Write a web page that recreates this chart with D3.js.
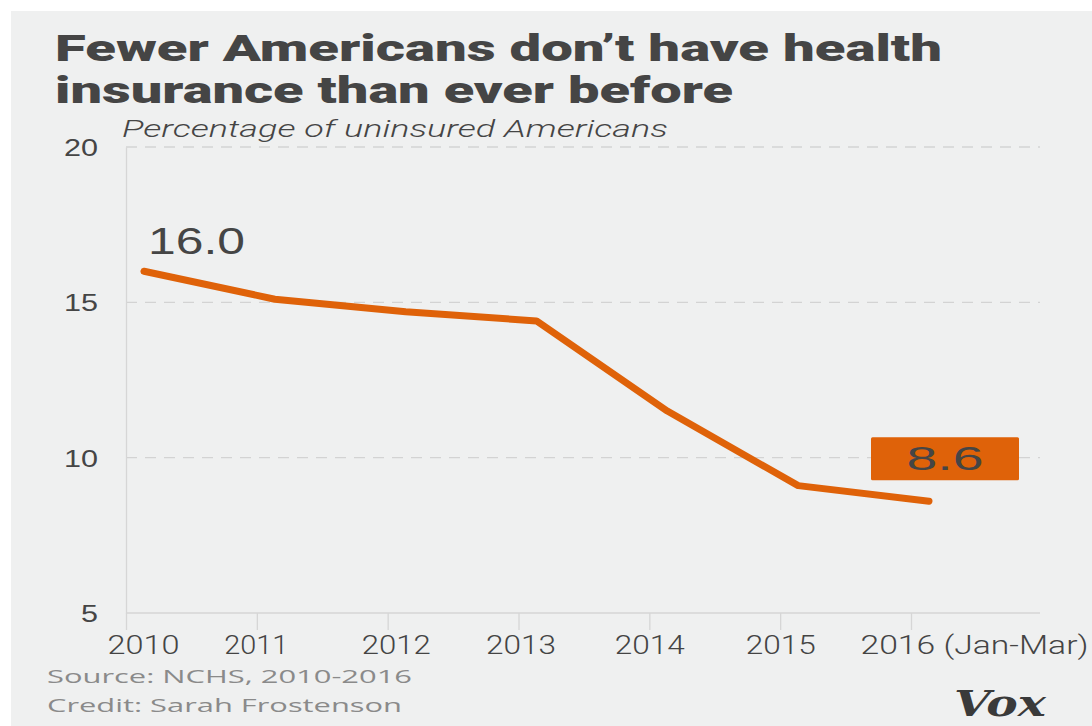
<!DOCTYPE html>
<html>
<head>
<meta charset="utf-8">
<script src="https://cdn.jsdelivr.net/npm/d3@7"></script>
<style>
  html, body { margin: 0; padding: 0; background: #ffffff; }
  svg { display: block; }
</style>
</head>
<body>
<svg id="chart" width="1092" height="726"></svg>
<script>
// Uninsured rate, NCHS 2010–2016 (2016 = Jan–Mar)
const years = [2010, 2011, 2012, 2013, 2014, 2015, 2016];
const uninsured = [16.0, 15.1, 14.7, 14.4, 11.5, 9.1, 8.6];
const yearLabels = ["2010", "2011", "2012", "2013", "2014", "2015", "2016 (Jan-Mar)"];
const yTicks = [5, 10, 15, 20];

const titleLines = ["Fewer Americans don\u2019t have health", "insurance than ever before"];
const subtitle = "Percentage of uninsured Americans";
const sourceText = "Source: NCHS, 2010-2016";
const creditText = "Credit: Sarah Frostenson";

const W = 1092, H = 726;
const orange = "#df6209";
const ink = "#454545";

const svg = d3.select("#chart");

// panel background
svg.append("rect").attr("x", 11).attr("y", 11).attr("width", W - 11).attr("height", H - 11)
  .attr("fill", "#eff0f0");

// title & subtitle
const titleWidths = [887, 678];
titleLines.forEach((t, i) => {
  svg.append("text")
    .attr("x", 55).attr("y", 61 + i * 42)
    .attr("font-family", "Roboto, 'Liberation Sans', sans-serif")
    .attr("font-weight", 900)
    .attr("font-size", 36)
    .attr("fill", ink)
    .attr("textLength", titleWidths[i])
    .attr("lengthAdjust", "spacingAndGlyphs")
    .text(t);
});
svg.append("text")
  .attr("x", 122).attr("y", 137)
  .attr("font-family", "Roboto, 'Open Sans', sans-serif")
  .attr("font-style", "italic")
  .attr("font-weight", 300)
  .attr("font-size", 24)
  .attr("fill", ink)
  .attr("textLength", 546)
  .attr("lengthAdjust", "spacingAndGlyphs")
  .text(subtitle);

// scales
const x = d3.scalePoint().domain(years).range([126, 911]);
const markShift = 18;             // points sit just right of each year tick
const y = d3.scaleLinear().domain([5, 20]).range([613, 147]);
const plotRight = 1040;

// dashed gridlines
svg.append("g").selectAll("line")
  .data(yTicks.filter(v => v > 5))
  .join("line")
  .attr("x1", x(2010)).attr("x2", plotRight)
  .attr("y1", d => y(d)).attr("y2", d => y(d))
  .attr("stroke", "#d3d3d3")
  .attr("stroke-width", 1.3)
  .attr("stroke-dasharray", "11,8");

// y axis
const yAxis = svg.append("g")
  .attr("transform", `translate(${x(2010)},0)`)
  .call(d3.axisLeft(y).tickValues(yTicks).tickSize(0).tickPadding(28));
yAxis.select(".domain").attr("stroke", "#d6d6d6").attr("stroke-width", 1.3);
yAxis.selectAll("text")
  .attr("font-family", "'Liberation Sans', 'Open Sans', sans-serif")
  .attr("font-size", 24)
  .attr("fill", ink)
  .attr("dy", "0.36em")
  .attr("textLength", d => String(d).length * 17)
  .attr("lengthAdjust", "spacingAndGlyphs");

// x axis
const labelWidths = [72, 64, 69, 70, 70, 70, 228];
const labelShift = [17, -1, 8, 2, 0, 0, -51];
const xAxis = svg.append("g")
  .attr("transform", `translate(0,${y(5)})`)
  .call(d3.axisBottom(x).tickSize(17).tickPadding(6).tickFormat((d, i) => yearLabels[i]));
xAxis.select(".domain").attr("d", `M${x(2010)},0H${plotRight}`)
  .attr("stroke", "#d6d6d6").attr("stroke-width", 1.3);
xAxis.selectAll(".tick line").attr("stroke", "#d6d6d6").attr("stroke-width", 1.3);
xAxis.selectAll("text")
  .attr("font-family", "Roboto, 'Liberation Sans', sans-serif")
  .attr("font-weight", 300)
  .attr("font-size", 25)
  .attr("fill", "#444")
  .attr("dy", "0.71em")
  .attr("text-anchor", (d, i) => i === years.length - 1 ? "start" : "middle")
  .attr("dx", (d, i) => labelShift[i])
  .attr("textLength", (d, i) => labelWidths[i])
  .attr("lengthAdjust", "spacingAndGlyphs");

// line
const pts = years.map((yr, i) => ({ yr, v: uninsured[i] }));
const line = d3.line().x(d => x(d.yr) + markShift).y(d => y(d.v));
svg.append("path")
  .datum(pts)
  .attr("d", line)
  .attr("fill", "none")
  .attr("stroke", orange)
  .attr("stroke-width", 7)
  .attr("stroke-linecap", "round")
  .attr("stroke-linejoin", "round");

// first value label
const first = pts[0], last = pts[pts.length - 1];
svg.append("text")
  .attr("x", x(first.yr) + markShift + 4).attr("y", y(first.v) - 17)
  .attr("font-family", "'Liberation Sans', 'Open Sans', sans-serif")
  .attr("font-size", 36)
  .attr("fill", ink)
  .attr("textLength", 97)
  .attr("lengthAdjust", "spacingAndGlyphs")
  .text(first.v.toFixed(1));

// last value label in a filled box
const lx = x(last.yr) + markShift + 16, ly = y(last.v) - 43;
svg.append("rect")
  .attr("x", lx - 74).attr("y", ly - 21).attr("width", 148).attr("height", 43)
  .attr("rx", 1.5)
  .attr("fill", orange);
svg.append("text")
  .attr("x", lx).attr("y", ly + 12)
  .attr("text-anchor", "middle")
  .attr("font-family", "'Liberation Sans', 'Open Sans', sans-serif")
  .attr("font-size", 33)
  .attr("fill", ink)
  .attr("textLength", 77)
  .attr("lengthAdjust", "spacingAndGlyphs")
  .text(last.v.toFixed(1));

// source & credit
[[sourceText, 683, 365], [creditText, 712, 355]].forEach(([t, yy, w]) => {
  svg.append("text")
    .attr("x", 47).attr("y", yy)
    .attr("font-family", "'Open Sans', 'Liberation Sans', sans-serif")
    .attr("font-size", 19)
    .attr("fill", "#8a8a8a")
    .attr("textLength", w)
    .attr("lengthAdjust", "spacingAndGlyphs")
    .text(t);
});

// wordmark
svg.append("text")
  .attr("x", 954).attr("y", 716)
  .attr("font-family", "'DejaVu Serif', 'Liberation Serif', serif")
  .attr("font-weight", 700)
  .attr("font-style", "italic")
  .attr("font-size", 35)
  .attr("fill", "#3a3a3a")
  .attr("textLength", 92)
  .attr("lengthAdjust", "spacingAndGlyphs")
  .text("Vox");
</script>
</body>
</html>
